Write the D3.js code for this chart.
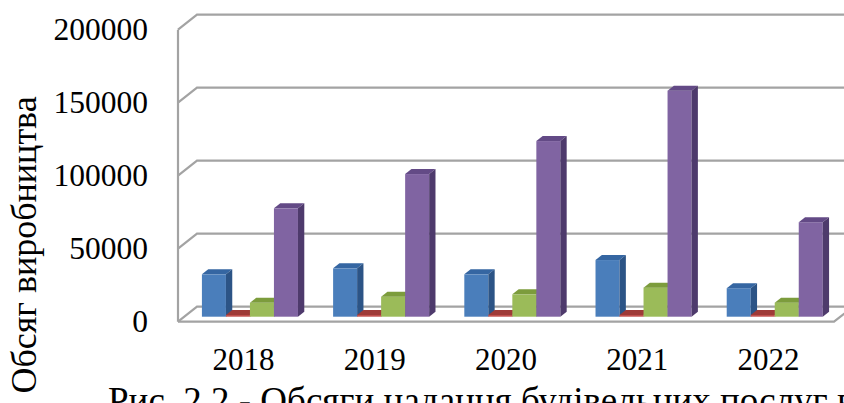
<!DOCTYPE html>
<html>
<head>
<meta charset="utf-8">
<script src="https://cdn.jsdelivr.net/npm/d3@7"></script>
<style>
  html, body { margin: 0; padding: 0; background: #ffffff; }
  svg { display: block; }
  text { font-family: "Liberation Serif", "Times New Roman", serif; fill: #000; }
</style>
</head>
<body>
<svg id="chart" width="844" height="403"></svg>
<script>
// Years on the category axis
const years = ["2018", "2019", "2020", "2021", "2022"];
// Four series of production volume per year
const series1 = [29000, 33100, 29000, 38800, 19500];
const series2 = [1200, 1200, 1200, 1200, 1200];
const series3 = [9500, 13700, 15300, 19900, 9600];
const series4 = [74200, 97700, 120300, 154800, 64700];
// Value axis ticks
const yTicks = [0, 50000, 100000, 150000, 200000];
const yTitle = "Обсяг виробництва";
const caption = "Рис. 2.2 - Обсяги надання будівельних послуг в";

const seriesList = [series1, series2, series3, series4];
const palette = [
  { front: "#4A7EBB", top: "#3566A2", side: "#2C5486" },
  { front: "#C0504D", top: "#9E3A37", side: "#8A302E" },
  { front: "#9BBB59", top: "#7C9C3C", side: "#6B8833" },
  { front: "#8064A2", top: "#634A86", side: "#4E3A6C" }
];

const svg = d3.select("#chart");

// Oblique depth of the plot box
const depthX = 19, depthY = 15;
// Bars occupy the middle third of the depth
const f0 = 1 / 3, f1 = 2 / 3;

const y = d3.scaleLinear().domain([0, 200000]).range([321.7, 29.7]);
const x0 = d3.scaleBand().domain(years).range([178, 834])
  .paddingInner(0.268).paddingOuter(0.134);
const x1 = d3.scaleBand().domain(d3.range(seriesList.length)).range([0, x0.bandwidth()]);

const gridColor = "#A3A3A3";
const plotRight = 834;

// Back wall gridlines and left-wall diagonals
const grid = svg.append("g").attr("fill", "none").attr("stroke", gridColor).attr("stroke-width", 2.2);
yTicks.forEach(v => {
  const yf = y(v);
  grid.append("path").attr("d",
    `M178,${yf}L${178 + depthX},${yf - depthY}L${plotRight + depthX},${yf - depthY}`);
});
// Left wall front edge
grid.append("line").attr("x1", 178).attr("x2", 178)
  .attr("y1", y(200000)).attr("y2", y(0));
// Floor front edge and right diagonal
grid.append("path").attr("d",
  `M178,${y(0)}L${plotRight},${y(0)}L${plotRight + depthX},${y(0) - depthY}`);

// Bars
const bars = svg.append("g");
years.forEach((yr, i) => {
  seriesList.forEach((s, k) => {
    const v = s[i];
    const c = palette[k];
    const w = x1.bandwidth();
    const xl = x0(yr) + x1(k) + depthX * f0;
    const base = y(0) - depthY * f0;
    const top = y(v) - depthY * f0;
    const ddx = depthX * (f1 - f0), ddy = depthY * (f1 - f0);
    const g = bars.append("g");
    g.append("rect").attr("x", xl).attr("y", top).attr("width", w).attr("height", base - top)
      .attr("fill", c.front);
    g.append("path").attr("d",
      `M${xl},${top}L${xl + w},${top}L${xl + w + ddx},${top - ddy}L${xl + ddx},${top - ddy}Z`)
      .attr("fill", c.top);
    g.append("path").attr("d",
      `M${xl + w},${top}L${xl + w + ddx},${top - ddy}L${xl + w + ddx},${base - ddy}L${xl + w},${base}Z`)
      .attr("fill", c.side);
  });
});

// Value axis labels
const yAxis = svg.append("g").attr("transform", "translate(148,0)")
  .call(d3.axisLeft(y).tickValues(yTicks).tickSize(0).tickPadding(0).tickFormat(d3.format("d")));
yAxis.select(".domain").remove();
yAxis.selectAll("text").style("font-family", "Liberation Serif").style("font-size", "31.5px").attr("fill", "#000");

// Category axis labels
const xAxis = svg.append("g").attr("transform", `translate(0,${y(0)})`)
  .call(d3.axisBottom(x0).tickSize(0).tickPadding(0));
xAxis.select(".domain").remove();
xAxis.selectAll("text").attr("dy", null).attr("y", 48.5)
  .style("font-family", "Liberation Serif").style("font-size", "31px").attr("fill", "#000");

// Axis title
svg.append("text")
  .attr("transform", "translate(36,245) rotate(-90)")
  .attr("text-anchor", "middle")
  .style("font-size", "36px")
  .text(yTitle);

// Figure caption
svg.append("text")
  .attr("x", 108).attr("y", 413)
  .style("font-size", "37px")
  .text(caption);
</script>
</body>
</html>
